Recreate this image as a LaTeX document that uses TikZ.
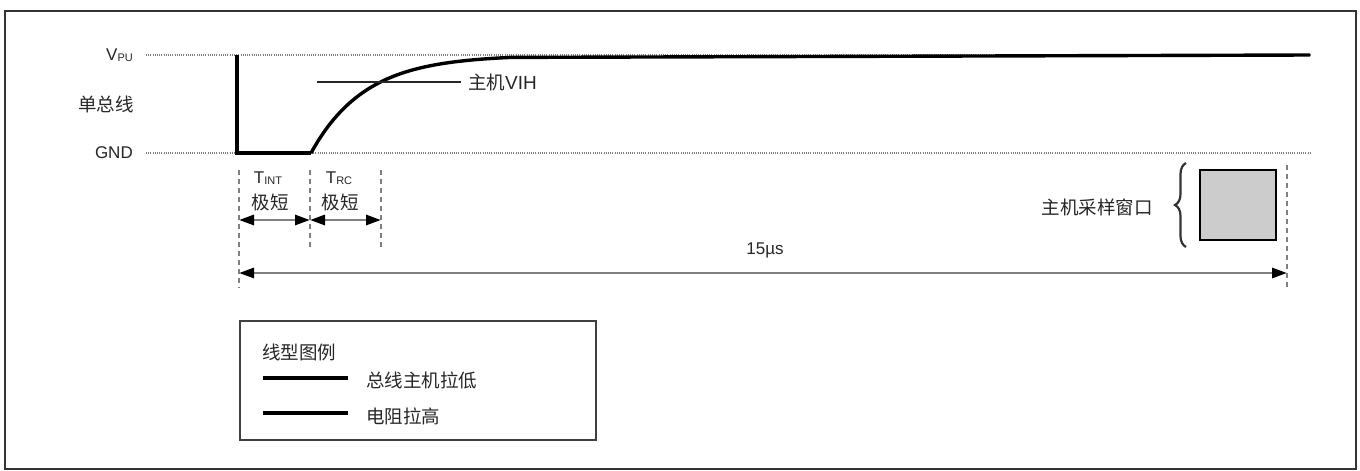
\documentclass[tikz,border=0pt]{standalone}
\usepackage{fontspec}
\setmainfont{Liberation Sans}
\newfontfamily\cjk{Noto Sans CJK SC}
\usetikzlibrary{positioning}
\usetikzlibrary{arrows.meta}
\usetikzlibrary{decorations.pathreplacing}
\newcommand{\zh}[1]{{\cjk\fontsize{18.5}{22}\selectfont #1}}
\newcommand{\lsub}[1]{{\fontsize{11}{12}\selectfont\raisebox{-0.8pt}{#1}}}

\tikzset{
  lvl/.style={gray, line width=1.2pt, dash pattern=on 1pt off 1.2pt},
  bus/.style={line width=4.4pt, line join=miter},
  pullup/.style={line width=3.4pt},
  tline/.style={gray, line width=1.8pt, dash pattern=on 5pt off 4pt},
  span/.style={{Triangle[length=15pt,width=10pt,black]}-{Triangle[length=15pt,width=10pt,black]},
    line width=2.8pt, draw=black!50},
  lbl/.style={font=\fontsize{17}{19}\selectfont, text=black!85, inner sep=0pt}
}

\begin{document}
\begin{tikzpicture}[x=1pt, y=-1pt]
\useasboundingbox (0,0) rectangle (1360,471);
%% \draw[help lines, step=50] (0,0) grid (1360,471);
\draw[black!80, line width=2.4pt] (5,11) rectangle (1356,469);

%% levels
\node[lbl, anchor=east] (vpu) at (133,55) {V\lsub{PU}};
\node[lbl, anchor=east] (gnd) at (133,153) {GND};
\node[lbl, anchor=east] (bus) at (134,104) {\zh{单总线}};
\coordinate (vpuL) at (146,55);
\coordinate (vpuR) at (1310,55);
\coordinate (gndL) at (146,153);
\coordinate (gndR) at (1310,153);
\draw[lvl] (vpuL) -- (vpuR);
\draw[lvl] (gndL) -- (gndR);

%% waveform
\coordinate (fall) at (237,55);
\coordinate (low) at (237,153);
\coordinate (rel) at (311,153);
\draw[bus] (fall) -- (low) -- (rel);
\draw[pullup] (rel) plot[domain=0:200, samples=80] ({311+\x},{55+98*exp(-\x/54)}) -- (vpuR);

%% host VIH
\node[lbl, anchor=west] (vih) at (468,82) {\zh{主机}{\fontsize{19}{22}\selectfont VIH}};
\coordinate (vihL) at (317,82);
\draw[line width=1.8pt, black!85] (vihL) -- (vih.west -| 461,0);

%% timing marks
\coordinate (t0a) at (239,170);
\coordinate (t0b) at (239,288);
\coordinate (t1a) at (310,170);
\coordinate (t1b) at (310,248);
\coordinate (t2a) at (381,170);
\coordinate (t2b) at (381,248);
\coordinate (t3a) at (1287,165);
\coordinate (t3b) at (1287,288);
\draw[tline] (t0a) -- (t0b);
\draw[tline] (t1a) -- (t1b);
\draw[tline] (t2a) -- (t2b);
\draw[tline] (t3a) -- (t3b);

\node[lbl] (tint) at (268,178) {T\lsub{INT}};
\node[lbl] (tintd) at (270,202) {\zh{极短}};
\node[lbl] (trc) at (339,178) {T\lsub{RC}};
\node[lbl] (trcd) at (340,202) {\zh{极短}};
\draw[span] (t0a |- 0,220) -- (t1a |- 0,220);
\draw[span] (t1a |- 0,220) -- (t2a |- 0,220);

\node[lbl] (total) at (765,250) {15µs};
\draw[span] (t0a |- 0,273) -- (t3a |- 0,273);

%% sample window
\node[draw, line width=2.4pt, fill=black!20, minimum width=76pt, minimum height=70pt, inner sep=0pt] (win) at (1238,205) {};
\draw[black!80, line width=2.2pt, decorate, decoration={brace, amplitude=11pt}] (1186,247) -- (1186,163);
\node[lbl, anchor=east] (winlbl) at (1153,207) {\zh{主机采样窗口}};

%% legend
\draw[black!75, line width=1.8pt] (240,321) rectangle (596,440);
\node[lbl, anchor=west] (leg) at (262,352) {\zh{线型图例}};
\coordinate (legA) at (263,378);
\coordinate (legB) at (348,378);
\coordinate (legC) at (263,413);
\coordinate (legD) at (348,413);
\draw[bus] (legA) -- (legB);
\draw[pullup] (legC) -- (legD);
\node[lbl, anchor=west] (legbus) at (366,380) {\zh{总线主机拉低}};
\node[lbl, anchor=west] (legpu) at (366,416) {\zh{电阻拉高}};
\end{tikzpicture}
\end{document}
